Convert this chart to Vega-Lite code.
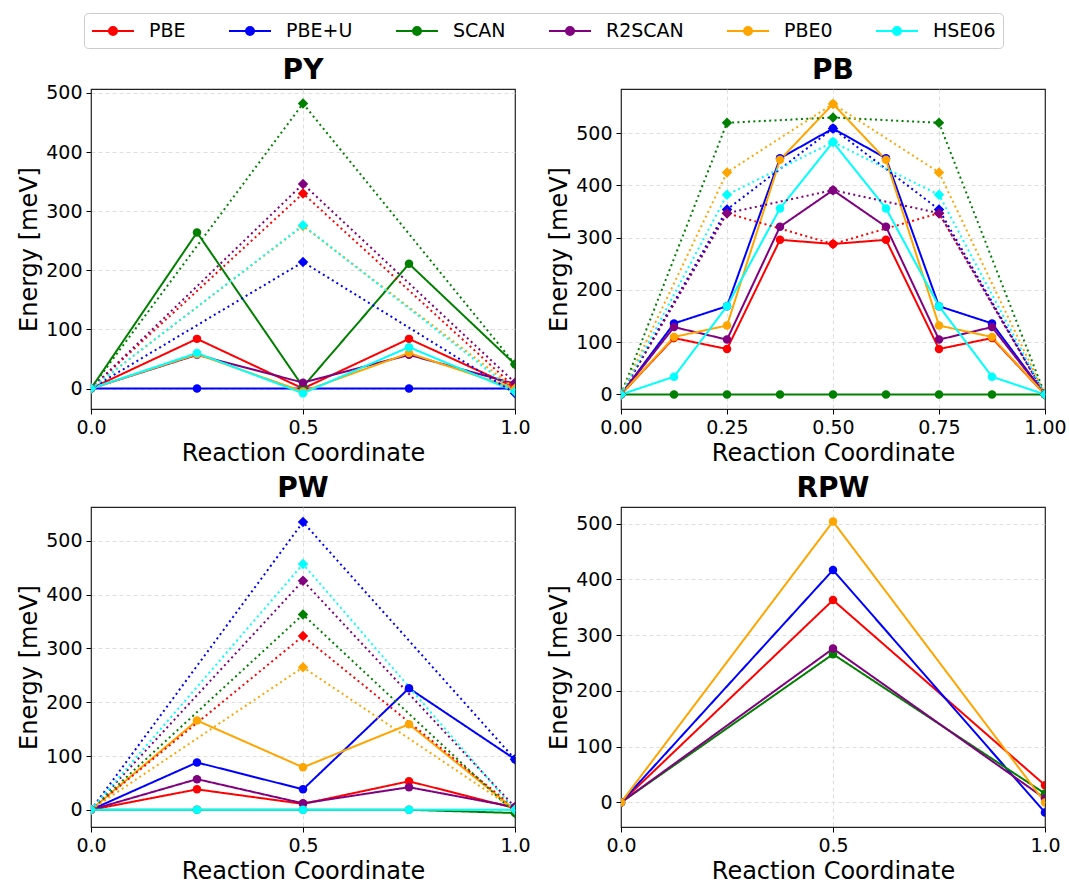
{
  "$schema": "https://vega.github.io/schema/vega-lite/v6.json",
  "padding": {"left": 17, "top": 12, "right": 4, "bottom": 5},
  "background": "white",
  "config": {
    "font": "DejaVu Sans",
    "view": {"stroke": "#222222", "strokeWidth": 1.2},
    "axis": {
      "labelFont": "DejaVu Sans", "labelFontSize": 19, "labelColor": "black", "labelFlush": false,
      "titleFont": "DejaVu Sans", "titleFontSize": 24, "titleFontWeight": "normal", "titleColor": "black",
      "tickColor": "black", "tickSize": 5, "tickWidth": 1, "domain": false,
      "grid": true, "gridColor": "#d5d5d5", "gridDash": [4, 3], "gridWidth": 0.8,
      "gridOpacity": {"condition": {"test": "datum.value === 0 || datum.value === 1", "value": 0}, "value": 1},
      "labelPadding": 4, "titlePadding": 4
    },
    "axisY": {"gridOpacity": 1},
    "title": {"font": "DejaVu Sans", "fontSize": 28, "fontWeight": "bold", "color": "black", "offset": 4}
  },
  "data": {"values": [
    {"panel":"PY","method":"PBE","kind":"path","x":0,"energy":0},
    {"panel":"PY","method":"PBE","kind":"path","x":0.25,"energy":84},
    {"panel":"PY","method":"PBE","kind":"path","x":0.5,"energy":0},
    {"panel":"PY","method":"PBE","kind":"path","x":0.75,"energy":84},
    {"panel":"PY","method":"PBE","kind":"path","x":1,"energy":2},
    {"panel":"PY","method":"PBE+U","kind":"path","x":0,"energy":0},
    {"panel":"PY","method":"PBE+U","kind":"path","x":0.25,"energy":0},
    {"panel":"PY","method":"PBE+U","kind":"path","x":0.5,"energy":0},
    {"panel":"PY","method":"PBE+U","kind":"path","x":0.75,"energy":0},
    {"panel":"PY","method":"PBE+U","kind":"path","x":1,"energy":0},
    {"panel":"PY","method":"SCAN","kind":"path","x":0,"energy":0},
    {"panel":"PY","method":"SCAN","kind":"path","x":0.25,"energy":264},
    {"panel":"PY","method":"SCAN","kind":"path","x":0.5,"energy":3},
    {"panel":"PY","method":"SCAN","kind":"path","x":0.75,"energy":211},
    {"panel":"PY","method":"SCAN","kind":"path","x":1,"energy":41},
    {"panel":"PY","method":"R2SCAN","kind":"path","x":0,"energy":0},
    {"panel":"PY","method":"R2SCAN","kind":"path","x":0.25,"energy":57},
    {"panel":"PY","method":"R2SCAN","kind":"path","x":0.5,"energy":10},
    {"panel":"PY","method":"R2SCAN","kind":"path","x":0.75,"energy":57},
    {"panel":"PY","method":"R2SCAN","kind":"path","x":1,"energy":8},
    {"panel":"PY","method":"PBE0","kind":"path","x":0,"energy":0},
    {"panel":"PY","method":"PBE0","kind":"path","x":0.25,"energy":58},
    {"panel":"PY","method":"PBE0","kind":"path","x":0.5,"energy":-5},
    {"panel":"PY","method":"PBE0","kind":"path","x":0.75,"energy":60},
    {"panel":"PY","method":"PBE0","kind":"path","x":1,"energy":0},
    {"panel":"PY","method":"HSE06","kind":"path","x":0,"energy":0},
    {"panel":"PY","method":"HSE06","kind":"path","x":0.25,"energy":60},
    {"panel":"PY","method":"HSE06","kind":"path","x":0.5,"energy":-8},
    {"panel":"PY","method":"HSE06","kind":"path","x":0.75,"energy":70},
    {"panel":"PY","method":"HSE06","kind":"path","x":1,"energy":-5},
    {"panel":"PY","method":"PBE","kind":"estimate","x":0,"energy":0},
    {"panel":"PY","method":"PBE","kind":"estimate","x":0.5,"energy":330},
    {"panel":"PY","method":"PBE","kind":"estimate","x":1,"energy":2},
    {"panel":"PY","method":"PBE+U","kind":"estimate","x":0,"energy":0},
    {"panel":"PY","method":"PBE+U","kind":"estimate","x":0.5,"energy":214},
    {"panel":"PY","method":"PBE+U","kind":"estimate","x":1,"energy":-8},
    {"panel":"PY","method":"SCAN","kind":"estimate","x":0,"energy":0},
    {"panel":"PY","method":"SCAN","kind":"estimate","x":0.5,"energy":482},
    {"panel":"PY","method":"SCAN","kind":"estimate","x":1,"energy":41},
    {"panel":"PY","method":"R2SCAN","kind":"estimate","x":0,"energy":0},
    {"panel":"PY","method":"R2SCAN","kind":"estimate","x":0.5,"energy":346},
    {"panel":"PY","method":"R2SCAN","kind":"estimate","x":1,"energy":10},
    {"panel":"PY","method":"PBE0","kind":"estimate","x":0,"energy":0},
    {"panel":"PY","method":"PBE0","kind":"estimate","x":0.5,"energy":275},
    {"panel":"PY","method":"PBE0","kind":"estimate","x":1,"energy":0},
    {"panel":"PY","method":"HSE06","kind":"estimate","x":0,"energy":0},
    {"panel":"PY","method":"HSE06","kind":"estimate","x":0.5,"energy":276},
    {"panel":"PY","method":"HSE06","kind":"estimate","x":1,"energy":-5},

    {"panel":"PB","method":"PBE","kind":"path","x":0,"energy":0},
    {"panel":"PB","method":"PBE","kind":"path","x":0.125,"energy":108},
    {"panel":"PB","method":"PBE","kind":"path","x":0.25,"energy":87},
    {"panel":"PB","method":"PBE","kind":"path","x":0.375,"energy":296},
    {"panel":"PB","method":"PBE","kind":"path","x":0.5,"energy":288},
    {"panel":"PB","method":"PBE","kind":"path","x":0.625,"energy":296},
    {"panel":"PB","method":"PBE","kind":"path","x":0.75,"energy":87},
    {"panel":"PB","method":"PBE","kind":"path","x":0.875,"energy":108},
    {"panel":"PB","method":"PBE","kind":"path","x":1,"energy":0},
    {"panel":"PB","method":"PBE+U","kind":"path","x":0,"energy":0},
    {"panel":"PB","method":"PBE+U","kind":"path","x":0.125,"energy":136},
    {"panel":"PB","method":"PBE+U","kind":"path","x":0.25,"energy":169},
    {"panel":"PB","method":"PBE+U","kind":"path","x":0.375,"energy":452},
    {"panel":"PB","method":"PBE+U","kind":"path","x":0.5,"energy":509},
    {"panel":"PB","method":"PBE+U","kind":"path","x":0.625,"energy":452},
    {"panel":"PB","method":"PBE+U","kind":"path","x":0.75,"energy":169},
    {"panel":"PB","method":"PBE+U","kind":"path","x":0.875,"energy":136},
    {"panel":"PB","method":"PBE+U","kind":"path","x":1,"energy":0},
    {"panel":"PB","method":"SCAN","kind":"path","x":0,"energy":0},
    {"panel":"PB","method":"SCAN","kind":"path","x":0.125,"energy":0},
    {"panel":"PB","method":"SCAN","kind":"path","x":0.25,"energy":0},
    {"panel":"PB","method":"SCAN","kind":"path","x":0.375,"energy":0},
    {"panel":"PB","method":"SCAN","kind":"path","x":0.5,"energy":0},
    {"panel":"PB","method":"SCAN","kind":"path","x":0.625,"energy":0},
    {"panel":"PB","method":"SCAN","kind":"path","x":0.75,"energy":0},
    {"panel":"PB","method":"SCAN","kind":"path","x":0.875,"energy":0},
    {"panel":"PB","method":"SCAN","kind":"path","x":1,"energy":0},
    {"panel":"PB","method":"R2SCAN","kind":"path","x":0,"energy":0},
    {"panel":"PB","method":"R2SCAN","kind":"path","x":0.125,"energy":129},
    {"panel":"PB","method":"R2SCAN","kind":"path","x":0.25,"energy":105},
    {"panel":"PB","method":"R2SCAN","kind":"path","x":0.375,"energy":321},
    {"panel":"PB","method":"R2SCAN","kind":"path","x":0.5,"energy":391},
    {"panel":"PB","method":"R2SCAN","kind":"path","x":0.625,"energy":321},
    {"panel":"PB","method":"R2SCAN","kind":"path","x":0.75,"energy":105},
    {"panel":"PB","method":"R2SCAN","kind":"path","x":0.875,"energy":129},
    {"panel":"PB","method":"R2SCAN","kind":"path","x":1,"energy":0},
    {"panel":"PB","method":"PBE0","kind":"path","x":0,"energy":0},
    {"panel":"PB","method":"PBE0","kind":"path","x":0.125,"energy":110},
    {"panel":"PB","method":"PBE0","kind":"path","x":0.25,"energy":132},
    {"panel":"PB","method":"PBE0","kind":"path","x":0.375,"energy":449},
    {"panel":"PB","method":"PBE0","kind":"path","x":0.5,"energy":556},
    {"panel":"PB","method":"PBE0","kind":"path","x":0.625,"energy":449},
    {"panel":"PB","method":"PBE0","kind":"path","x":0.75,"energy":132},
    {"panel":"PB","method":"PBE0","kind":"path","x":0.875,"energy":110},
    {"panel":"PB","method":"PBE0","kind":"path","x":1,"energy":0},
    {"panel":"PB","method":"HSE06","kind":"path","x":0,"energy":0},
    {"panel":"PB","method":"HSE06","kind":"path","x":0.125,"energy":34},
    {"panel":"PB","method":"HSE06","kind":"path","x":0.25,"energy":169},
    {"panel":"PB","method":"HSE06","kind":"path","x":0.375,"energy":356},
    {"panel":"PB","method":"HSE06","kind":"path","x":0.5,"energy":483},
    {"panel":"PB","method":"HSE06","kind":"path","x":0.625,"energy":356},
    {"panel":"PB","method":"HSE06","kind":"path","x":0.75,"energy":169},
    {"panel":"PB","method":"HSE06","kind":"path","x":0.875,"energy":34},
    {"panel":"PB","method":"HSE06","kind":"path","x":1,"energy":0},
    {"panel":"PB","method":"PBE","kind":"estimate","x":0,"energy":0},
    {"panel":"PB","method":"PBE","kind":"estimate","x":0.25,"energy":347},
    {"panel":"PB","method":"PBE","kind":"estimate","x":0.5,"energy":288},
    {"panel":"PB","method":"PBE","kind":"estimate","x":0.75,"energy":347},
    {"panel":"PB","method":"PBE","kind":"estimate","x":1,"energy":0},
    {"panel":"PB","method":"PBE+U","kind":"estimate","x":0,"energy":0},
    {"panel":"PB","method":"PBE+U","kind":"estimate","x":0.25,"energy":354},
    {"panel":"PB","method":"PBE+U","kind":"estimate","x":0.5,"energy":509},
    {"panel":"PB","method":"PBE+U","kind":"estimate","x":0.75,"energy":354},
    {"panel":"PB","method":"PBE+U","kind":"estimate","x":1,"energy":0},
    {"panel":"PB","method":"SCAN","kind":"estimate","x":0,"energy":0},
    {"panel":"PB","method":"SCAN","kind":"estimate","x":0.25,"energy":520},
    {"panel":"PB","method":"SCAN","kind":"estimate","x":0.5,"energy":530},
    {"panel":"PB","method":"SCAN","kind":"estimate","x":0.75,"energy":520},
    {"panel":"PB","method":"SCAN","kind":"estimate","x":1,"energy":0},
    {"panel":"PB","method":"R2SCAN","kind":"estimate","x":0,"energy":0},
    {"panel":"PB","method":"R2SCAN","kind":"estimate","x":0.25,"energy":347},
    {"panel":"PB","method":"R2SCAN","kind":"estimate","x":0.5,"energy":391},
    {"panel":"PB","method":"R2SCAN","kind":"estimate","x":0.75,"energy":347},
    {"panel":"PB","method":"R2SCAN","kind":"estimate","x":1,"energy":0},
    {"panel":"PB","method":"PBE0","kind":"estimate","x":0,"energy":0},
    {"panel":"PB","method":"PBE0","kind":"estimate","x":0.25,"energy":425},
    {"panel":"PB","method":"PBE0","kind":"estimate","x":0.5,"energy":556},
    {"panel":"PB","method":"PBE0","kind":"estimate","x":0.75,"energy":425},
    {"panel":"PB","method":"PBE0","kind":"estimate","x":1,"energy":0},
    {"panel":"PB","method":"HSE06","kind":"estimate","x":0,"energy":0},
    {"panel":"PB","method":"HSE06","kind":"estimate","x":0.25,"energy":382},
    {"panel":"PB","method":"HSE06","kind":"estimate","x":0.5,"energy":483},
    {"panel":"PB","method":"HSE06","kind":"estimate","x":0.75,"energy":382},
    {"panel":"PB","method":"HSE06","kind":"estimate","x":1,"energy":0},

    {"panel":"PW","method":"PBE","kind":"path","x":0,"energy":0},
    {"panel":"PW","method":"PBE","kind":"path","x":0.25,"energy":38},
    {"panel":"PW","method":"PBE","kind":"path","x":0.5,"energy":11},
    {"panel":"PW","method":"PBE","kind":"path","x":0.75,"energy":53},
    {"panel":"PW","method":"PBE","kind":"path","x":1,"energy":3},
    {"panel":"PW","method":"PBE+U","kind":"path","x":0,"energy":0},
    {"panel":"PW","method":"PBE+U","kind":"path","x":0.25,"energy":88},
    {"panel":"PW","method":"PBE+U","kind":"path","x":0.5,"energy":38},
    {"panel":"PW","method":"PBE+U","kind":"path","x":0.75,"energy":226},
    {"panel":"PW","method":"PBE+U","kind":"path","x":1,"energy":94},
    {"panel":"PW","method":"SCAN","kind":"path","x":0,"energy":0},
    {"panel":"PW","method":"SCAN","kind":"path","x":0.25,"energy":0},
    {"panel":"PW","method":"SCAN","kind":"path","x":0.5,"energy":0},
    {"panel":"PW","method":"SCAN","kind":"path","x":0.75,"energy":0},
    {"panel":"PW","method":"SCAN","kind":"path","x":1,"energy":-6},
    {"panel":"PW","method":"R2SCAN","kind":"path","x":0,"energy":0},
    {"panel":"PW","method":"R2SCAN","kind":"path","x":0.25,"energy":57},
    {"panel":"PW","method":"R2SCAN","kind":"path","x":0.5,"energy":12},
    {"panel":"PW","method":"R2SCAN","kind":"path","x":0.75,"energy":42},
    {"panel":"PW","method":"R2SCAN","kind":"path","x":1,"energy":5},
    {"panel":"PW","method":"PBE0","kind":"path","x":0,"energy":0},
    {"panel":"PW","method":"PBE0","kind":"path","x":0.25,"energy":166},
    {"panel":"PW","method":"PBE0","kind":"path","x":0.5,"energy":79},
    {"panel":"PW","method":"PBE0","kind":"path","x":0.75,"energy":159},
    {"panel":"PW","method":"PBE0","kind":"path","x":1,"energy":0},
    {"panel":"PW","method":"HSE06","kind":"path","x":0,"energy":0},
    {"panel":"PW","method":"HSE06","kind":"path","x":0.25,"energy":0},
    {"panel":"PW","method":"HSE06","kind":"path","x":0.5,"energy":0},
    {"panel":"PW","method":"HSE06","kind":"path","x":0.75,"energy":0},
    {"panel":"PW","method":"HSE06","kind":"path","x":1,"energy":0},
    {"panel":"PW","method":"PBE","kind":"estimate","x":0,"energy":0},
    {"panel":"PW","method":"PBE","kind":"estimate","x":0.5,"energy":323},
    {"panel":"PW","method":"PBE","kind":"estimate","x":1,"energy":3},
    {"panel":"PW","method":"PBE+U","kind":"estimate","x":0,"energy":0},
    {"panel":"PW","method":"PBE+U","kind":"estimate","x":0.5,"energy":535},
    {"panel":"PW","method":"PBE+U","kind":"estimate","x":1,"energy":94},
    {"panel":"PW","method":"SCAN","kind":"estimate","x":0,"energy":0},
    {"panel":"PW","method":"SCAN","kind":"estimate","x":0.5,"energy":363},
    {"panel":"PW","method":"SCAN","kind":"estimate","x":1,"energy":-6},
    {"panel":"PW","method":"R2SCAN","kind":"estimate","x":0,"energy":0},
    {"panel":"PW","method":"R2SCAN","kind":"estimate","x":0.5,"energy":426},
    {"panel":"PW","method":"R2SCAN","kind":"estimate","x":1,"energy":5},
    {"panel":"PW","method":"PBE0","kind":"estimate","x":0,"energy":0},
    {"panel":"PW","method":"PBE0","kind":"estimate","x":0.5,"energy":265},
    {"panel":"PW","method":"PBE0","kind":"estimate","x":1,"energy":0},
    {"panel":"PW","method":"HSE06","kind":"estimate","x":0,"energy":0},
    {"panel":"PW","method":"HSE06","kind":"estimate","x":0.5,"energy":457},
    {"panel":"PW","method":"HSE06","kind":"estimate","x":1,"energy":0},

    {"panel":"RPW","method":"PBE","kind":"path","x":0,"energy":0},
    {"panel":"RPW","method":"PBE","kind":"path","x":0.5,"energy":363},
    {"panel":"RPW","method":"PBE","kind":"path","x":1,"energy":31},
    {"panel":"RPW","method":"PBE+U","kind":"path","x":0,"energy":0},
    {"panel":"RPW","method":"PBE+U","kind":"path","x":0.5,"energy":417},
    {"panel":"RPW","method":"PBE+U","kind":"path","x":1,"energy":-18},
    {"panel":"RPW","method":"SCAN","kind":"path","x":0,"energy":0},
    {"panel":"RPW","method":"SCAN","kind":"path","x":0.5,"energy":266},
    {"panel":"RPW","method":"SCAN","kind":"path","x":1,"energy":16},
    {"panel":"RPW","method":"R2SCAN","kind":"path","x":0,"energy":0},
    {"panel":"RPW","method":"R2SCAN","kind":"path","x":0.5,"energy":276},
    {"panel":"RPW","method":"R2SCAN","kind":"path","x":1,"energy":7},
    {"panel":"RPW","method":"PBE0","kind":"path","x":0,"energy":0},
    {"panel":"RPW","method":"PBE0","kind":"path","x":0.5,"energy":504},
    {"panel":"RPW","method":"PBE0","kind":"path","x":1,"energy":0}
  ]},
  "columns": 2,
  "spacing": {"row": 8, "column": 16},
  "resolve": {"scale": {"x": "independent", "y": "independent"}},
  "concat": [
    {
      "title": {"text": "PY", "offset": -1.5}, "width": 424, "height": 320,
      "transform": [{"filter": "datum.panel === 'PY'"}],
      "encoding": {
        "x": {"field": "x", "type": "quantitative", "scale": {"domain": [0, 1], "nice": false, "zero": false}, "axis": {"values": [0, 0.5, 1], "format": ".1f", "title": "Reaction Coordinate"}},
        "y": {"field": "energy", "type": "quantitative", "scale": {"domain": [-34.6, 506.6], "nice": false, "zero": false}, "axis": {"values": [0, 100, 200, 300, 400, 500], "title": "Energy [meV]"}},
        "color": {"field": "method", "type": "nominal", "scale": {"domain": ["PBE", "PBE+U", "SCAN", "R2SCAN", "PBE0", "HSE06"], "range": ["#ff0000", "#0000ff", "#008000", "#800080", "#ffa500", "#00ffff"]},
          "legend": {"orient": "none", "legendX": -7, "legendY": -76, "direction": "horizontal", "title": null,
            "symbolType": "M-1,0H3.2M0.7,0A0.4,0.4,0,1,1,1.5,0A0.4,0.4,0,1,1,0.7,0Z", "symbolSize": 400, "symbolStrokeWidth": 2,
            "labelFont": "DejaVu Sans", "labelFontSize": 19, "labelColor": "black", "labelOffset": 36, "columnPadding": 39, "padding": 7,
            "strokeColor": "#cccccc", "cornerRadius": 4, "fillColor": "white",
            "encode": {"symbols": {"update": {"fill": {"scale": "color", "field": "value"}, "stroke": {"scale": "color", "field": "value"}}}}}}
      },
      "layer": [
        {"mark": {"type": "line", "strokeWidth": 2, "clip": true},
         "encoding": {"strokeDash": {"field": "kind", "type": "nominal", "scale": {"domain": ["path", "estimate"], "range": [[1, 0], [2, 3.3]]}, "legend": null}, "detail": {"field": "kind"}}},
        {"mark": {"type": "point", "filled": true, "opacity": 1, "clip": true},
         "encoding": {"shape": {"field": "kind", "type": "nominal", "scale": {"domain": ["path", "estimate"], "range": ["circle", "diamond"]}, "legend": null},
                      "size": {"field": "kind", "type": "nominal", "scale": {"domain": ["path", "estimate"], "range": [72, 110]}, "legend": null}}}
      ]
    },
    {
      "title": "PB", "width": 424, "height": 320,
      "transform": [{"filter": "datum.panel === 'PB'"}],
      "encoding": {
        "x": {"field": "x", "type": "quantitative", "scale": {"domain": [0, 1], "nice": false, "zero": false}, "axis": {"values": [0, 0.25, 0.5, 0.75, 1], "format": ".2f", "title": "Reaction Coordinate"}},
        "y": {"field": "energy", "type": "quantitative", "scale": {"domain": [-27.8, 584.6], "nice": false, "zero": false}, "axis": {"values": [0, 100, 200, 300, 400, 500], "title": "Energy [meV]"}},
        "color": {"field": "method", "type": "nominal", "scale": {"domain": ["PBE", "PBE+U", "SCAN", "R2SCAN", "PBE0", "HSE06"], "range": ["#ff0000", "#0000ff", "#008000", "#800080", "#ffa500", "#00ffff"]},
          "legend": {"orient": "none", "legendX": -7, "legendY": -76, "direction": "horizontal", "title": null,
            "symbolType": "M-1,0H3.2M0.7,0A0.4,0.4,0,1,1,1.5,0A0.4,0.4,0,1,1,0.7,0Z", "symbolSize": 400, "symbolStrokeWidth": 2,
            "labelFont": "DejaVu Sans", "labelFontSize": 19, "labelColor": "black", "labelOffset": 36, "columnPadding": 39, "padding": 7,
            "strokeColor": "#cccccc", "cornerRadius": 4, "fillColor": "white",
            "encode": {"symbols": {"update": {"fill": {"scale": "color", "field": "value"}, "stroke": {"scale": "color", "field": "value"}}}}}}
      },
      "layer": [
        {"mark": {"type": "line", "strokeWidth": 2, "clip": true},
         "encoding": {"strokeDash": {"field": "kind", "type": "nominal", "scale": {"domain": ["path", "estimate"], "range": [[1, 0], [2, 3.3]]}, "legend": null}, "detail": {"field": "kind"}}},
        {"mark": {"type": "point", "filled": true, "opacity": 1, "clip": true},
         "encoding": {"shape": {"field": "kind", "type": "nominal", "scale": {"domain": ["path", "estimate"], "range": ["circle", "diamond"]}, "legend": null},
                      "size": {"field": "kind", "type": "nominal", "scale": {"domain": ["path", "estimate"], "range": [72, 110]}, "legend": null}}}
      ]
    },
    {
      "title": "PW", "width": 424, "height": 320,
      "transform": [{"filter": "datum.panel === 'PW'"}],
      "encoding": {
        "x": {"field": "x", "type": "quantitative", "scale": {"domain": [0, 1], "nice": false, "zero": false}, "axis": {"values": [0, 0.5, 1], "format": ".1f", "title": "Reaction Coordinate"}},
        "y": {"field": "energy", "type": "quantitative", "scale": {"domain": [-32, 563], "nice": false, "zero": false}, "axis": {"values": [0, 100, 200, 300, 400, 500], "title": "Energy [meV]"}},
        "color": {"field": "method", "type": "nominal", "scale": {"domain": ["PBE", "PBE+U", "SCAN", "R2SCAN", "PBE0", "HSE06"], "range": ["#ff0000", "#0000ff", "#008000", "#800080", "#ffa500", "#00ffff"]},
          "legend": {"orient": "none", "legendX": -7, "legendY": -76, "direction": "horizontal", "title": null,
            "symbolType": "M-1,0H3.2M0.7,0A0.4,0.4,0,1,1,1.5,0A0.4,0.4,0,1,1,0.7,0Z", "symbolSize": 400, "symbolStrokeWidth": 2,
            "labelFont": "DejaVu Sans", "labelFontSize": 19, "labelColor": "black", "labelOffset": 36, "columnPadding": 39, "padding": 7,
            "strokeColor": "#cccccc", "cornerRadius": 4, "fillColor": "white",
            "encode": {"symbols": {"update": {"fill": {"scale": "color", "field": "value"}, "stroke": {"scale": "color", "field": "value"}}}}}}
      },
      "layer": [
        {"mark": {"type": "line", "strokeWidth": 2, "clip": true},
         "encoding": {"strokeDash": {"field": "kind", "type": "nominal", "scale": {"domain": ["path", "estimate"], "range": [[1, 0], [2, 3.3]]}, "legend": null}, "detail": {"field": "kind"}}},
        {"mark": {"type": "point", "filled": true, "opacity": 1, "clip": true},
         "encoding": {"shape": {"field": "kind", "type": "nominal", "scale": {"domain": ["path", "estimate"], "range": ["circle", "diamond"]}, "legend": null},
                      "size": {"field": "kind", "type": "nominal", "scale": {"domain": ["path", "estimate"], "range": [72, 110]}, "legend": null}}}
      ]
    },
    {
      "title": "RPW", "width": 424, "height": 320,
      "transform": [{"filter": "datum.panel === 'RPW'"}],
      "encoding": {
        "x": {"field": "x", "type": "quantitative", "scale": {"domain": [0, 1], "nice": false, "zero": false}, "axis": {"values": [0, 0.5, 1], "format": ".1f", "title": "Reaction Coordinate"}},
        "y": {"field": "energy", "type": "quantitative", "scale": {"domain": [-44, 530], "nice": false, "zero": false}, "axis": {"values": [0, 100, 200, 300, 400, 500], "title": "Energy [meV]"}},
        "color": {"field": "method", "type": "nominal", "scale": {"domain": ["PBE", "PBE+U", "SCAN", "R2SCAN", "PBE0", "HSE06"], "range": ["#ff0000", "#0000ff", "#008000", "#800080", "#ffa500", "#00ffff"]},
          "legend": {"orient": "none", "legendX": -7, "legendY": -76, "direction": "horizontal", "title": null,
            "symbolType": "M-1,0H3.2M0.7,0A0.4,0.4,0,1,1,1.5,0A0.4,0.4,0,1,1,0.7,0Z", "symbolSize": 400, "symbolStrokeWidth": 2,
            "labelFont": "DejaVu Sans", "labelFontSize": 19, "labelColor": "black", "labelOffset": 36, "columnPadding": 39, "padding": 7,
            "strokeColor": "#cccccc", "cornerRadius": 4, "fillColor": "white",
            "encode": {"symbols": {"update": {"fill": {"scale": "color", "field": "value"}, "stroke": {"scale": "color", "field": "value"}}}}}}
      },
      "layer": [
        {"mark": {"type": "line", "strokeWidth": 2, "clip": true},
         "encoding": {"strokeDash": {"field": "kind", "type": "nominal", "scale": {"domain": ["path", "estimate"], "range": [[1, 0], [2, 3.3]]}, "legend": null}, "detail": {"field": "kind"}}},
        {"mark": {"type": "point", "filled": true, "opacity": 1, "clip": true},
         "encoding": {"shape": {"field": "kind", "type": "nominal", "scale": {"domain": ["path", "estimate"], "range": ["circle", "diamond"]}, "legend": null},
                      "size": {"field": "kind", "type": "nominal", "scale": {"domain": ["path", "estimate"], "range": [72, 110]}, "legend": null}}}
      ]
    }
  ]
}
